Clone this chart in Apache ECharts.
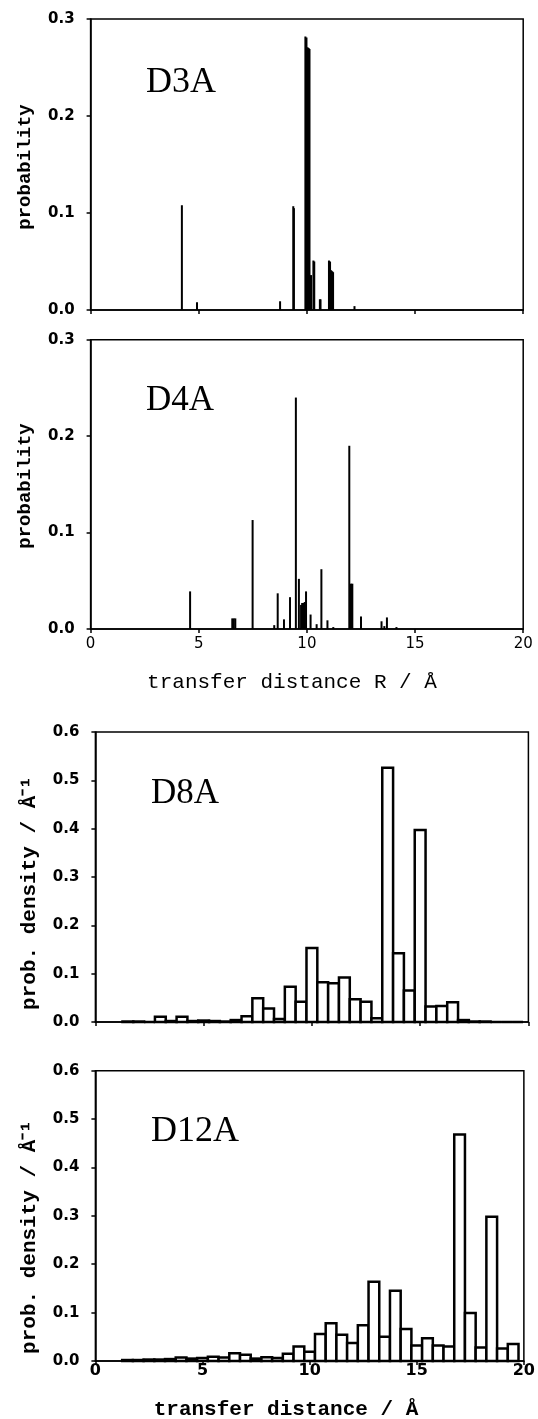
<!DOCTYPE html>
<html>
<head>
<meta charset="utf-8">
<script src="https://cdn.jsdelivr.net/npm/echarts@6/dist/echarts.min.js"></script>
<style>
  html, body { margin: 0; padding: 0; background: #fff; }
  #main { width: 538px; height: 1419px; }
</style>
</head>
<body>
<div id="main"></div>
<script>
// D3A: single transfer distances (Å) and their probabilities
var d3aDist = [4.22, 4.92, 8.76, 9.37, 9.40, 9.93, 9.98, 10.03, 10.08, 10.12, 10.19, 10.30, 10.34,
  10.60, 10.63, 11.02, 11.07, 11.12, 11.17, 11.21, 12.20];
var d3aProb = [0.108, 0.008, 0.009, 0.107, 0.105, 0.282, 0.281, 0.271, 0.270, 0.269, 0.036, 0.051, 0.050,
  0.011, 0.011, 0.051, 0.050, 0.041, 0.040, 0.039, 0.004];

// D4A
var d4aDist = [4.60, 6.55, 6.62, 6.69, 7.49, 8.49, 8.65, 8.94, 9.22, 9.49, 9.63, 9.73, 9.78, 9.84, 9.90,
  9.96, 10.17, 10.45, 10.67, 10.95, 11.22, 11.96, 12.04, 12.10, 12.50, 13.45, 13.58, 13.70, 14.14];
var d4aProb = [0.039, 0.011, 0.011, 0.011, 0.113, 0.004, 0.037, 0.010, 0.033, 0.240, 0.052, 0.025, 0.027, 0.027, 0.028,
  0.039, 0.015, 0.005, 0.062, 0.009, 0.002, 0.190, 0.047, 0.047, 0.013, 0.008, 0.003, 0.012, 0.002];

// D8A / D12A histograms: bin centres (Å), 0.5 Å wide bins
var binCentres = [1.5, 2.0, 2.5, 3.0, 3.5, 4.0, 4.5, 5.0, 5.5, 6.0, 6.5, 7.0, 7.5, 8.0, 8.5, 9.0, 9.5,
  10.0, 10.5, 11.0, 11.5, 12.0, 12.5, 13.0, 13.5, 14.0, 14.5, 15.0, 15.5, 16.0, 16.5, 17.0, 17.5,
  18.0, 18.5, 19.0, 19.5];
var d8aDens = [0.001, 0.001, 0, 0.011, 0.002, 0.011, 0.002, 0.003, 0.002, 0.001, 0.004, 0.012, 0.049,
  0.028, 0.006, 0.073, 0.042, 0.153, 0.082, 0.080, 0.092, 0.047, 0.042, 0.008, 0.526, 0.142, 0.065,
  0.397, 0.032, 0.033, 0.041, 0.004, 0.001, 0.001, 0, 0, 0];
var d12aDens = [0.002, 0.002, 0.003, 0.003, 0.004, 0.007, 0.005, 0.006, 0.009, 0.007, 0.016, 0.013, 0.005,
  0.008, 0.006, 0.015, 0.030, 0.019, 0.056, 0.078, 0.054, 0.037, 0.074, 0.164, 0.050, 0.145, 0.066,
  0.032, 0.047, 0.032, 0.030, 0.468, 0.099, 0.028, 0.298, 0.026, 0.035];
var binWidth = 0.5;

// axis ticks
var xTicks = [0, 5, 10, 15, 20];
var probTicks = [0.0, 0.1, 0.2, 0.3];
var densTicks = [0.0, 0.1, 0.2, 0.3, 0.4, 0.5, 0.6];

var myChart = echarts.init(document.getElementById('main'));

function pairs (xs, ys) {
  var out = [];
  for (var i = 0; i < xs.length; i++) out.push([xs[i], ys[i]]);
  return out;
}

// thin vertical stick from 0 up to the value
function stickItem (params, api) {
  var top = api.coord([api.value(0), api.value(1)]);
  var base = api.coord([api.value(0), 0]);
  return {
    type: 'rect',
    shape: { x: top[0] - 1, y: top[1], width: 2, height: base[1] - top[1] },
    style: { fill: '#000' }
  };
}

// open histogram bar, one bin wide
function binItem (params, api) {
  var x = api.value(0);
  var a = api.coord([x - binWidth / 2, api.value(1)]);
  var b = api.coord([x + binWidth / 2, 0]);
  return {
    type: 'rect',
    shape: { x: a[0], y: a[1], width: b[0] - a[0], height: b[1] - a[1] },
    style: { fill: '#fff', stroke: '#000', lineWidth: 2.5 }
  };
}

function xAxisFor (idx, showLabel, bold, margin) {
  return {
    type: 'value', gridIndex: idx,
    min: xTicks[0], max: xTicks[xTicks.length - 1], interval: xTicks[1] - xTicks[0],
    axisLine: { lineStyle: { color: '#000', width: 1.5 } },
    axisTick: { inside: false, length: 4, lineStyle: { color: '#000', width: 1.5 } },
    splitLine: { show: false },
    axisLabel: {
      show: showLabel, margin: margin, color: '#000',
      fontFamily: 'DejaVu Sans', fontWeight: bold ? 'bold' : 'normal', fontSize: bold ? 16 : 15
    }
  };
}

function yAxisFor (idx, ticks) {
  return {
    type: 'value', gridIndex: idx,
    min: ticks[0], max: ticks[ticks.length - 1], interval: ticks[1] - ticks[0],
    axisLine: { show: true, lineStyle: { color: '#000', width: 1.5 } },
    axisTick: { show: true, inside: false, length: 4, lineStyle: { color: '#000', width: 1.5 } },
    splitLine: { show: false },
    axisLabel: {
      margin: 16, color: '#000', fontFamily: 'DejaVu Sans', fontWeight: 'bold', fontSize: 15,
      formatter: function (v) { return v.toFixed(1); }
    }
  };
}

function gridFor (left, top, width, height) {
  return { left: left, top: top, width: width, height: height, show: true,
    borderColor: '#000', borderWidth: 1.5, backgroundColor: 'transparent' };
}

// panel name inside the plot
function label (text, x, y, size) {
  return { type: 'text', x: x, y: y,
    style: { text: text, fill: '#000', font: size + 'px "Liberation Serif"', textVerticalAlign: 'bottom' } };
}

function vTitle (text, x, y, size, bold) {
  return { type: 'text', x: x, y: y, rotation: Math.PI / 2,
    style: { text: text, fill: '#000', textAlign: 'center', textVerticalAlign: 'middle',
      font: (bold ? 'bold ' : '') + size + 'px "Liberation Mono"' } };
}

function hTitle (text, x, y, size, bold) {
  return { type: 'text', x: x, y: y,
    style: { text: text, fill: '#000', textAlign: 'center', textVerticalAlign: 'middle',
      font: (bold ? 'bold ' : '') + size + 'px "Liberation Mono"' } };
}

option = {
  animation: false,
  backgroundColor: '#fff',
  grid: [
    gridFor(90.6, 19, 432.6, 291),
    gridFor(90.6, 339.7, 432.6, 289.3),
    gridFor(95.4, 732, 433, 290),
    gridFor(95.4, 1070.7, 433, 290.3)
  ],
  xAxis: [
    xAxisFor(0, false, false, 8),
    xAxisFor(1, true, false, 8),
    xAxisFor(2, false, true, 2),
    xAxisFor(3, true, true, 2)
  ],
  yAxis: [
    yAxisFor(0, probTicks),
    yAxisFor(1, probTicks),
    yAxisFor(2, densTicks),
    yAxisFor(3, densTicks)
  ],
  series: [
    { type: 'custom', xAxisIndex: 0, yAxisIndex: 0, renderItem: stickItem, data: pairs(d3aDist, d3aProb) },
    { type: 'custom', xAxisIndex: 1, yAxisIndex: 1, renderItem: stickItem, data: pairs(d4aDist, d4aProb) },
    { type: 'custom', xAxisIndex: 2, yAxisIndex: 2, renderItem: binItem, data: pairs(binCentres, d8aDens) },
    { type: 'custom', xAxisIndex: 3, yAxisIndex: 3, renderItem: binItem, data: pairs(binCentres, d12aDens) }
  ],
  graphic: [
    label('D3A', 146, 100.3, 36),
    label('D4A', 146, 418.2, 35),
    label('D8A', 151, 810.9, 35),
    label('D12A', 151, 1149.9, 36),
    vTitle('probability', 25, 167, 19, true),
    vTitle('probability', 25, 486, 19, true),
    vTitle('prob. density / Å⁻¹', 30, 893, 21, true),
    vTitle('prob. density / Å⁻¹', 30, 1237, 21, true),
    hTitle('transfer distance R / Å', 292, 682, 21, false),
    hTitle('transfer distance / Å', 286, 1410, 21, true)
  ]
};

myChart.setOption(option);
window.addEventListener('resize', function () {
  myChart.resize();
});
</script>
</body>
</html>
